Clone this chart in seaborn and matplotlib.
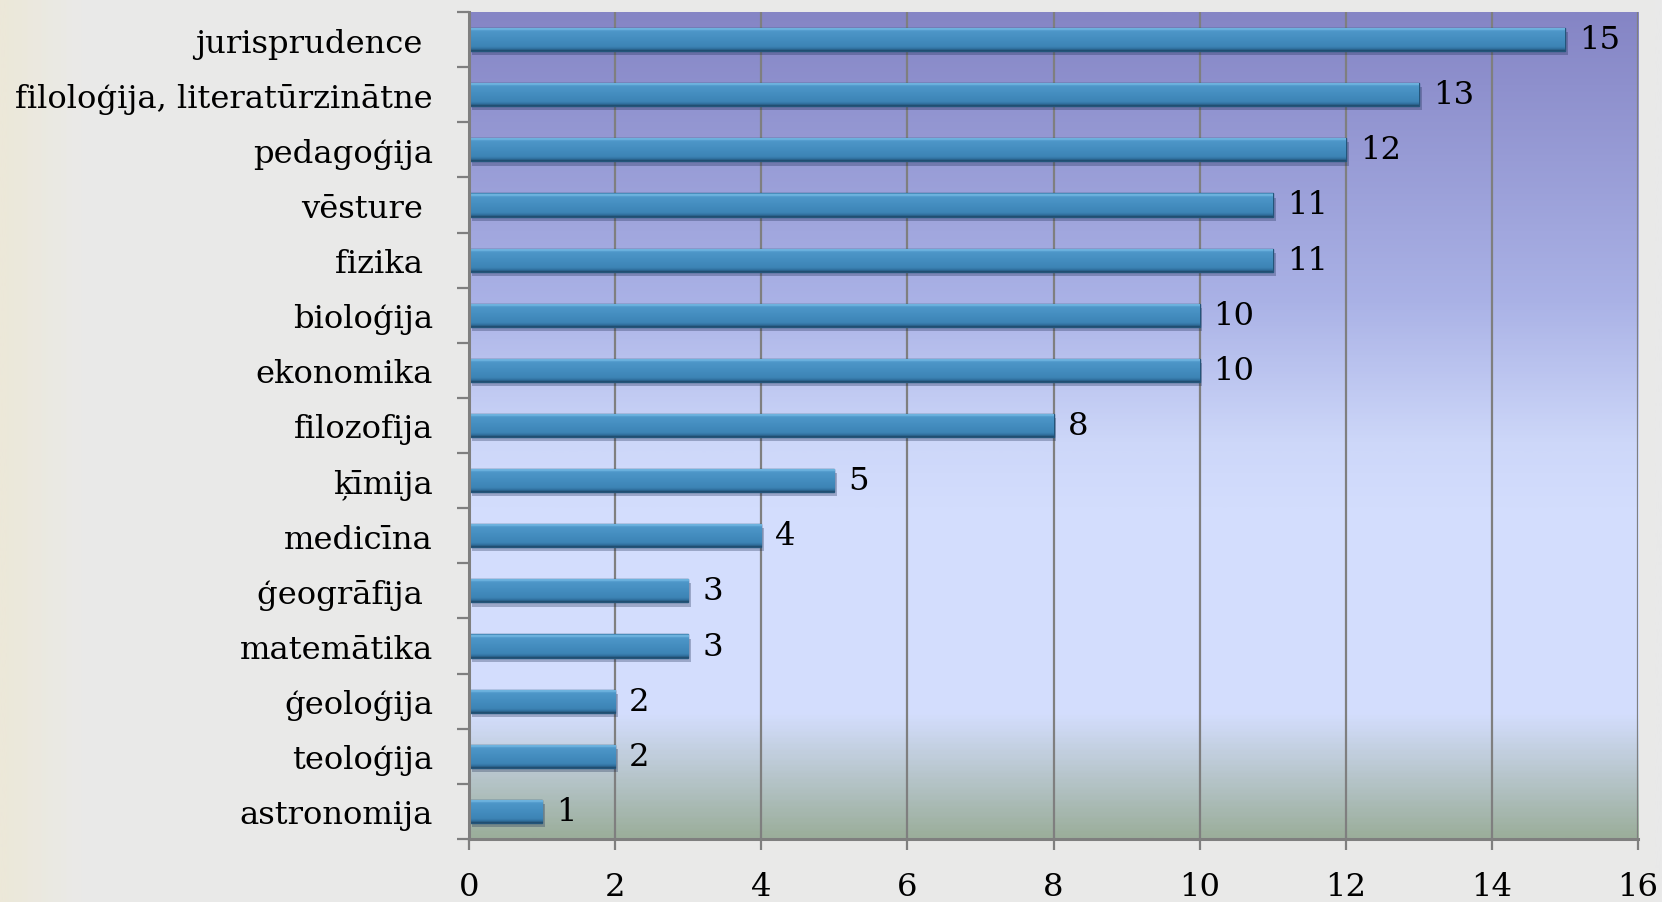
import numpy as np
import pandas as pd
import matplotlib
matplotlib.use('Agg')
import matplotlib.pyplot as plt
import matplotlib.patheffects as pe
from matplotlib.colors import LinearSegmentedColormap
import seaborn as sns

# data, top to bottom as in the chart
fields = ['jurisprudence ', 'filoloģija, literatūrzinātne', 'pedagoģija', 'vēsture ',
          'fizika ', 'bioloģija', 'ekonomika', 'filozofija', 'ķīmija', 'medicīna',
          'ģeogrāfija ', 'matemātika', 'ģeoloģija', 'teoloģija', 'astronomija']
counts = [15, 13, 12, 11, 11, 10, 10, 8, 5, 4, 3, 3, 2, 2, 1]
xticks = [0, 2, 4, 6, 8, 10, 12, 14, 16]

df = pd.DataFrame({'field': fields, 'count': counts})

sns.set_style('white')
plt.rcParams['font.family'] = ['DejaVu Serif']
plt.rcParams['text.color'] = 'black'
plt.rcParams['xtick.labelcolor'] = 'black'
plt.rcParams['ytick.labelcolor'] = 'black'
fs = 23.2

fig = plt.figure(figsize=(16.62, 9.03), dpi=100)

# page background: beige at the very left fading into light grey
bg = fig.add_axes([0, 0, 1, 1], zorder=-10)
page = LinearSegmentedColormap.from_list('page', [(0, '#ece8d9'), (0.045, '#eaeae8'), (1, '#e9e9e9')])
bg.imshow(np.linspace(0, 1, 600)[None, :], cmap=page, aspect='auto', extent=(0, 1, 0, 1))
bg.set_axis_off()

ax = fig.add_axes([0.2822, 0.0698, 0.7034, 0.9158])

# plot area gradient: purple -> pale blue -> grey green
area = LinearSegmentedColormap.from_list('area', [
    (0.0, '#8585c5'), (0.35, '#aab2e6'), (0.52, '#cdd7f9'), (0.6, '#d3ddfd'),
    (0.85, '#d4defe'), (1.0, '#9bae9b')])
ax.imshow(np.linspace(0, 1, 400)[:, None], cmap=area, aspect='auto',
          extent=(0, 1, 0, 1), transform=ax.transAxes, zorder=0)

sns.barplot(data=df, y='field', x='count', orient='h', color='#3b83b5',
            saturation=1, width=0.42, edgecolor='#24557a', linewidth=1.0, ax=ax, zorder=3)

# bevelled look: light rim on top, thin dark rim at the bottom
bevel = LinearSegmentedColormap.from_list('bevel', [
    (0.0, '#3a7fae'), (0.06, '#7cc0ea'), (0.15, '#4e97c9'), (0.5, '#448dbf'),
    (0.82, '#3d84b5'), (0.92, '#306f9d'), (1.0, '#1e4869')])
for bar in ax.patches:
    bar.set_path_effects([pe.SimplePatchShadow(offset=(2, -3), shadow_rgbFace='#1a2a50', alpha=0.3),
                          pe.Normal()])
    x0, y0, x1, y1 = bar.get_bbox().extents
    im = ax.imshow(np.linspace(0, 1, 60)[:, None], cmap=bevel, aspect='auto',
                   extent=(x0, x1, y1, y0), origin='upper', zorder=3.5, interpolation='bilinear')
    im.set_clip_path(bar)

ax.bar_label(ax.containers[0], labels=[str(c) for c in counts], padding=10, fontsize=fs, color='black')

ax.set_xlim(0, 16)
ax.set_ylim(14.5, -0.5)
ax.set_xticks(xticks)
ax.set_xlabel('')
ax.set_ylabel('')

ax.grid(axis='x', color='#7f7f7f', linewidth=1.6)
ax.grid(axis='y', visible=False)
ax.set_axisbelow(False)
for line in ax.get_xgridlines():
    line.set_zorder(1)

ax.set_yticks(np.arange(-0.5, 15, 1), minor=True)
ax.tick_params(axis='y', which='major', length=0, pad=26, labelsize=fs)
ax.tick_params(axis='y', which='minor', left=True, length=9, width=1.6, color='#7f7f7f')
ax.tick_params(axis='x', which='major', bottom=True, length=8, width=1.6, color='#7f7f7f',
               pad=15, labelsize=fs)

for side in ['top', 'right']:
    ax.spines[side].set_visible(False)
for side in ['left', 'bottom']:
    ax.spines[side].set_color('#7f7f7f')
    ax.spines[side].set_linewidth(2.2)
    ax.spines[side].set_zorder(4)

fig.savefig('out.png', dpi=100)
